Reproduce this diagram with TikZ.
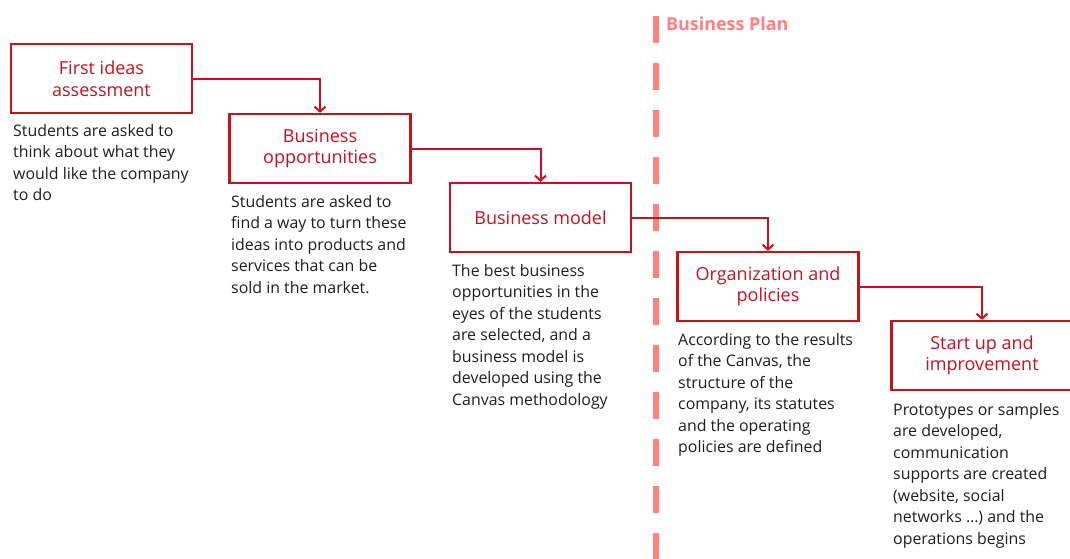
\documentclass[tikz,border=0pt]{standalone}
\usepackage{fontspec}
\setmainfont{Open Sans}
\usetikzlibrary{arrows.meta}
\definecolor{boxred}{RGB}{200,16,30}
\definecolor{planred}{RGB}{255,128,128}
\definecolor{txt}{RGB}{30,30,30}
\begin{document}
\begin{tikzpicture}[x=1pt,y=-1pt,
  stage/.style={draw=boxred, line width=2.2pt, text=boxred, minimum width=181pt, minimum height=69pt, align=center, inner sep=0pt, font=\fontsize{18}{21.5}\selectfont},
  desc/.style={anchor=north west, align=left, inner sep=0pt, text=txt, font=\fontsize{15.9}{21.5}\selectfont},
  flow/.style={draw=boxred, line width=2pt, -{Straight Barb[length=5pt,width=11pt]}},
  planline/.style={draw=planred, line width=6pt, dash pattern=on 27pt off 20pt},
  plantitle/.style={anchor=west, inner sep=0pt, text=planred, font=\fontsize{17.9}{21}\selectfont\bfseries}]
\useasboundingbox (0,0) rectangle (1070,558);
% dashed separator
\coordinate (ptop) at (656,16);
\coordinate (pbot) at (656,560);
\draw[planline] (ptop) -- (pbot);
\node[plantitle] (plan) at (666,24) {Business Plan};
% stages
\node[stage] (b1) at (101.5,78.5) {First ideas\\assessment};
\node[stage] (b2) at (320,148.5) {Business\\opportunities};
\node[stage] (b3) at (540.5,217.5) {Business model};
\node[stage] (b4) at (768,286.5) {Organization and\\policies};
\node[stage] (b5) at (982,355.5) {Start up and\\improvement};
% connectors
\draw[flow] (b1.east) -| (b2.north);
\draw[flow] (b2.east) -| (b3.north);
\draw[flow] (b3.east) -| (b4.north);
\draw[flow] (b4.east) -| (b5.north);
% descriptions
\node[desc] (d1) at (13,124) {Students are asked to\\think about what they\\would like the company\\to do};
\node[desc] (d2) at (231,195) {Students are asked to\\find a way to turn these\\ideas into products and\\services that can be\\sold in the market.};
\node[desc] (d3) at (452,264) {The best business\\opportunities in the\\eyes of the students\\are selected, and a\\business model is\\developed using the\\Canvas methodology};
\node[desc] (d4) at (678,333) {According to the results\\of the Canvas, the\\structure of the\\company, its statutes\\and the operating\\policies are defined};
\node[desc] (d5) at (893,403) {Prototypes or samples\\are developed,\\communication\\supports are created\\(website, social\\networks …) and the\\operations begins};
\end{tikzpicture}
\end{document}
